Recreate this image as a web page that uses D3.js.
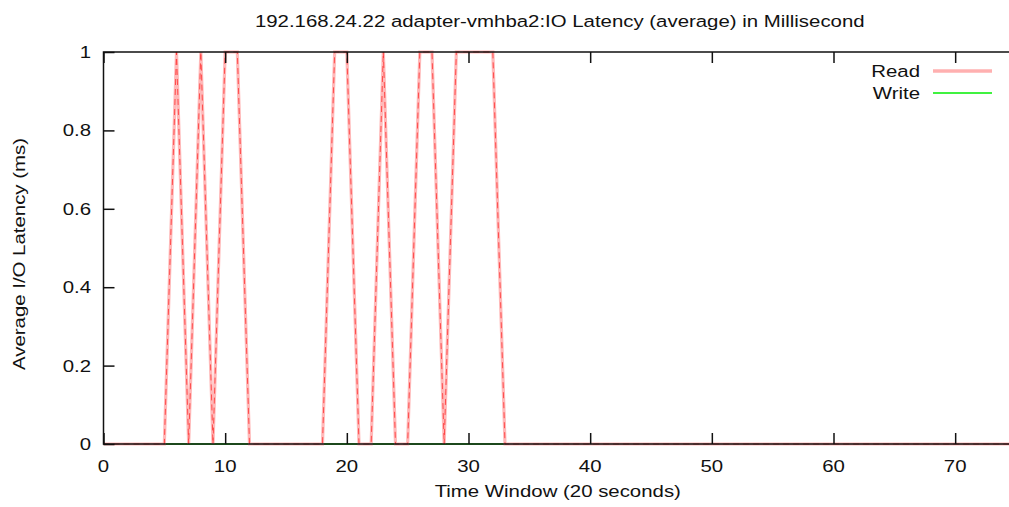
<!DOCTYPE html>
<html>
<head>
<meta charset="utf-8">
<script src="https://cdn.jsdelivr.net/npm/d3@7"></script>
<style>
  body { margin: 0; background: #fff; }
  svg { display: block; }
  text { font-family: "Liberation Sans", Arial, sans-serif; fill: #111; font-size: 17px; }
</style>
</head>
<body>
<div id="chart"></div>
<script>
// data (sample index -> latency in ms)
var timeWindow = d3.range(0, 76);
var readLatency = [0,0,0,0,0,0,1,0,1,0,1,1,0,0,0,0,0,0,0,1,1,0,0,1,0,0,1,1,0,1,1,1,1,0,
  0,0,0,0,0,0,0,0,0,0,0,0,0,0,0,0,0,0,0,0,0,0,0,0,0,0,0,0,0,0,0,0,0,0,0,0,0,0,0,0,0,0];
var writeLatency = timeWindow.map(function () { return 0; });
var xTicks = [0, 10, 20, 30, 40, 50, 60, 70];
var yTicks = [0, 0.2, 0.4, 0.6, 0.8, 1];
var seriesNames = ["Read", "Write"];

var svg_width = 1009, svg_height = 507;
var pLeft = 103.5, pRight = 1016, pTop = 52, pBottom = 444;
var stretch = 1.2; // the picture's text is a bit wide

var svg = d3.select("#chart").append("svg")
  .attr("width", svg_width)
  .attr("height", svg_height);

var x = d3.scaleLinear().domain([0, 75]).range([pLeft, pRight]);
var y = d3.scaleLinear().domain([0, 1]).range([pBottom, pTop]);

function addText(px, py, str, anchor, rot) {
  var g = svg.append("g")
    .attr("transform", "translate(" + px + "," + py + ")" + (rot ? " rotate(" + rot + ")" : "") + " scale(" + stretch + ",1)");
  g.append("text").attr("text-anchor", anchor || "middle").text(str);
  return g;
}

// title
addText((pLeft + pRight) / 2, 26.5, "192.168.24.22 adapter-vmhba2:IO Latency (average) in Millisecond");

// lines
var line = d3.line()
  .x(function (d, i) { return x(timeWindow[i]); })
  .y(function (d) { return y(d); });

svg.append("path")
  .datum(writeLatency)
  .attr("d", line)
  .attr("fill", "none")
  .attr("stroke", "#00ee00")
  .attr("stroke-width", 1.5);

svg.append("path")
  .datum(readLatency)
  .attr("d", line)
  .attr("fill", "none")
  .attr("stroke", "#ffb8b8")
  .attr("stroke-width", 3.2);

svg.append("path")
  .datum(readLatency)
  .attr("d", line)
  .attr("fill", "none")
  .attr("stroke", "#ff3030")
  .attr("stroke-width", 0.8)
  .attr("stroke-dasharray", "6,4");

// frame
svg.append("rect")
  .attr("x", pLeft).attr("y", pTop)
  .attr("width", pRight - pLeft).attr("height", pBottom - pTop)
  .attr("fill", "none")
  .attr("stroke", "#111")
  .attr("stroke-width", 1.5);

// inward ticks, mirrored
var tickLen = 11;
var xAxisB = svg.append("g").attr("transform", "translate(0," + pBottom + ")")
  .call(d3.axisTop(x).tickValues(xTicks).tickSize(tickLen).tickFormat(""));
var xAxisT = svg.append("g").attr("transform", "translate(0," + pTop + ")")
  .call(d3.axisBottom(x).tickValues(xTicks).tickSize(tickLen).tickFormat(""));
var yAxisL = svg.append("g").attr("transform", "translate(" + pLeft + ",0)")
  .call(d3.axisRight(y).tickValues(yTicks).tickSize(tickLen).tickFormat(""));
[xAxisB, xAxisT, yAxisL].forEach(function (g) {
  g.select(".domain").remove();
  g.selectAll("line").attr("stroke", "#111").attr("stroke-width", 1.5);
});

// tick labels
xTicks.forEach(function (d) { addText(x(d), 471.5, d, "middle"); });
yTicks.forEach(function (d) { addText(91, y(d) + 6, d, "end"); });

// axis titles
addText((pLeft + pRight) / 2 - 2, 496.5, "Time Window (20 seconds)");
addText(25, (pTop + pBottom) / 2 + 6, "Average I/O Latency (ms)", "middle", -90);

// legend
var legendColors = ["#ffb0b0", "#00ee00"];
var legendWidths = [3.5, 1.5];
seriesNames.forEach(function (name, i) {
  var ly = 71 + i * 22;
  addText(920, ly + 6, name, "end");
  svg.append("line")
    .attr("x1", 933).attr("x2", 992)
    .attr("y1", ly).attr("y2", ly)
    .attr("stroke", legendColors[i])
    .attr("stroke-width", legendWidths[i]);
});
</script>
</body>
</html>
